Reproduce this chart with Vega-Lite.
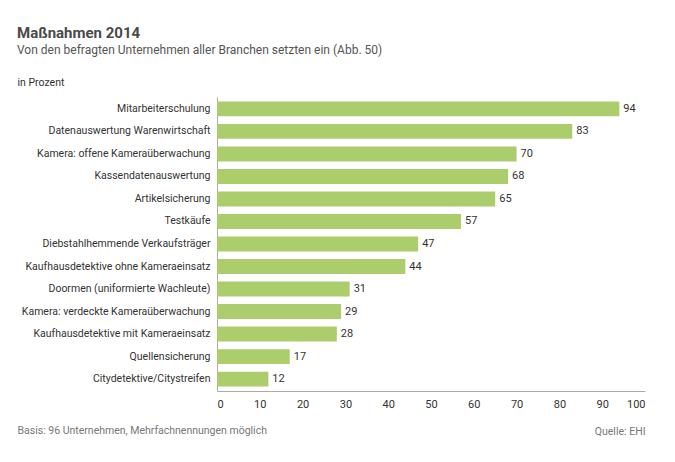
{
  "$schema": "https://vega.github.io/schema/vega-lite/v6.json",
  "autosize": {"type": "none"},
  "width": 428,
  "height": 294,
  "padding": {"left": 217, "top": 97, "right": 30, "bottom": 71},
  "background": "white",
  "config": {
    "font": "Roboto",
    "view": {"stroke": null}
  },
  "title": {
    "text": "Maßnahmen 2014",
    "subtitle": "Von den befragten Unternehmen aller Branchen setzten ein (Abb. 50)",
    "anchor": "start",
    "frame": "group",
    "dx": -200,
    "dy": 1,
    "font": "Roboto",
    "fontSize": 15,
    "fontWeight": "bold",
    "color": "#4a4a4a",
    "subtitleFont": "Roboto",
    "subtitleFontSize": 12,
    "subtitleColor": "#555555",
    "subtitlePadding": 4,
    "offset": 22
  },
  "data": {
    "values": [
      {"massnahme": "Mitarbeiterschulung", "wert": 94},
      {"massnahme": "Datenauswertung Warenwirtschaft", "wert": 83},
      {"massnahme": "Kamera: offene Kameraüberwachung", "wert": 70},
      {"massnahme": "Kassendatenauswertung", "wert": 68},
      {"massnahme": "Artikelsicherung", "wert": 65},
      {"massnahme": "Testkäufe", "wert": 57},
      {"massnahme": "Diebstahlhemmende Verkaufsträger", "wert": 47},
      {"massnahme": "Kaufhausdetektive ohne Kameraeinsatz", "wert": 44},
      {"massnahme": "Doormen (uniformierte Wachleute)", "wert": 31},
      {"massnahme": "Kamera: verdeckte Kameraüberwachung", "wert": 29},
      {"massnahme": "Kaufhausdetektive mit Kameraeinsatz", "wert": 28},
      {"massnahme": "Quellensicherung", "wert": 17},
      {"massnahme": "Citydetektive/Citystreifen", "wert": 12}
    ]
  },
  "encoding": {
    "y": {
      "field": "massnahme",
      "type": "nominal",
      "sort": null,
      "scale": {"paddingInner": 0.34, "paddingOuter": 0.2},
      "axis": {
        "title": "in Prozent",
        "titleAngle": 0,
        "titleX": -200,
        "titleY": -12,
        "titleAlign": "left",
        "titleBaseline": "alphabetic",
        "titleFontSize": 10.5,
        "titleFontWeight": "normal",
        "titleColor": "#333333",
        "titleFont": "Roboto",
        "domainColor": "#aaaaaa",
        "ticks": false,
        "labelPadding": 7,
        "labelFontSize": 10.5,
        "labelColor": "#333333",
        "labelFont": "Roboto",
        "labelLimit": 250
      }
    },
    "x": {
      "field": "wert",
      "type": "quantitative",
      "scale": {"domain": [0, 100], "nice": false}
    }
  },
  "layer": [
    {
      "mark": {"type": "bar", "color": "#abcd6c"},
      "encoding": {
        "x": {
          "field": "wert",
          "type": "quantitative",
          "axis": {
            "values": [0, 10, 20, 30, 40, 50, 60, 70, 80, 90, 100],
            "grid": false,
            "ticks": false,
            "domainColor": "#aaaaaa",
            "labelPadding": 7,
            "labelFontSize": 11,
            "labelColor": "#333333",
            "labelFont": "Roboto",
            "title": "Basis: 96 Unternehmen, Mehrfachnennungen möglich",
            "titleX": -200,
            "titleY": 42,
            "titleAlign": "left",
            "titleBaseline": "alphabetic",
            "titleFontSize": 10.5,
            "titleFontWeight": "normal",
            "titleColor": "#777777",
            "titleFont": "Roboto"
          }
        }
      }
    },
    {
      "mark": {"type": "text", "align": "left", "baseline": "middle", "dx": 4, "fontSize": 11, "color": "#333333", "font": "Roboto"},
      "encoding": {
        "text": {"field": "wert", "type": "quantitative"},
        "x": {
          "field": "wert",
          "type": "quantitative",
          "axis": {
            "orient": "top",
            "domain": false,
            "ticks": false,
            "labels": false,
            "grid": false,
            "title": "Quelle: EHI",
            "titleX": 428,
            "titleY": 337,
            "titleAlign": "right",
            "titleBaseline": "alphabetic",
            "titleFontSize": 10.5,
            "titleFontWeight": "normal",
            "titleColor": "#777777",
            "titleFont": "Roboto"
          }
        }
      }
    }
  ],
  "resolve": {"axis": {"x": "independent"}}
}
